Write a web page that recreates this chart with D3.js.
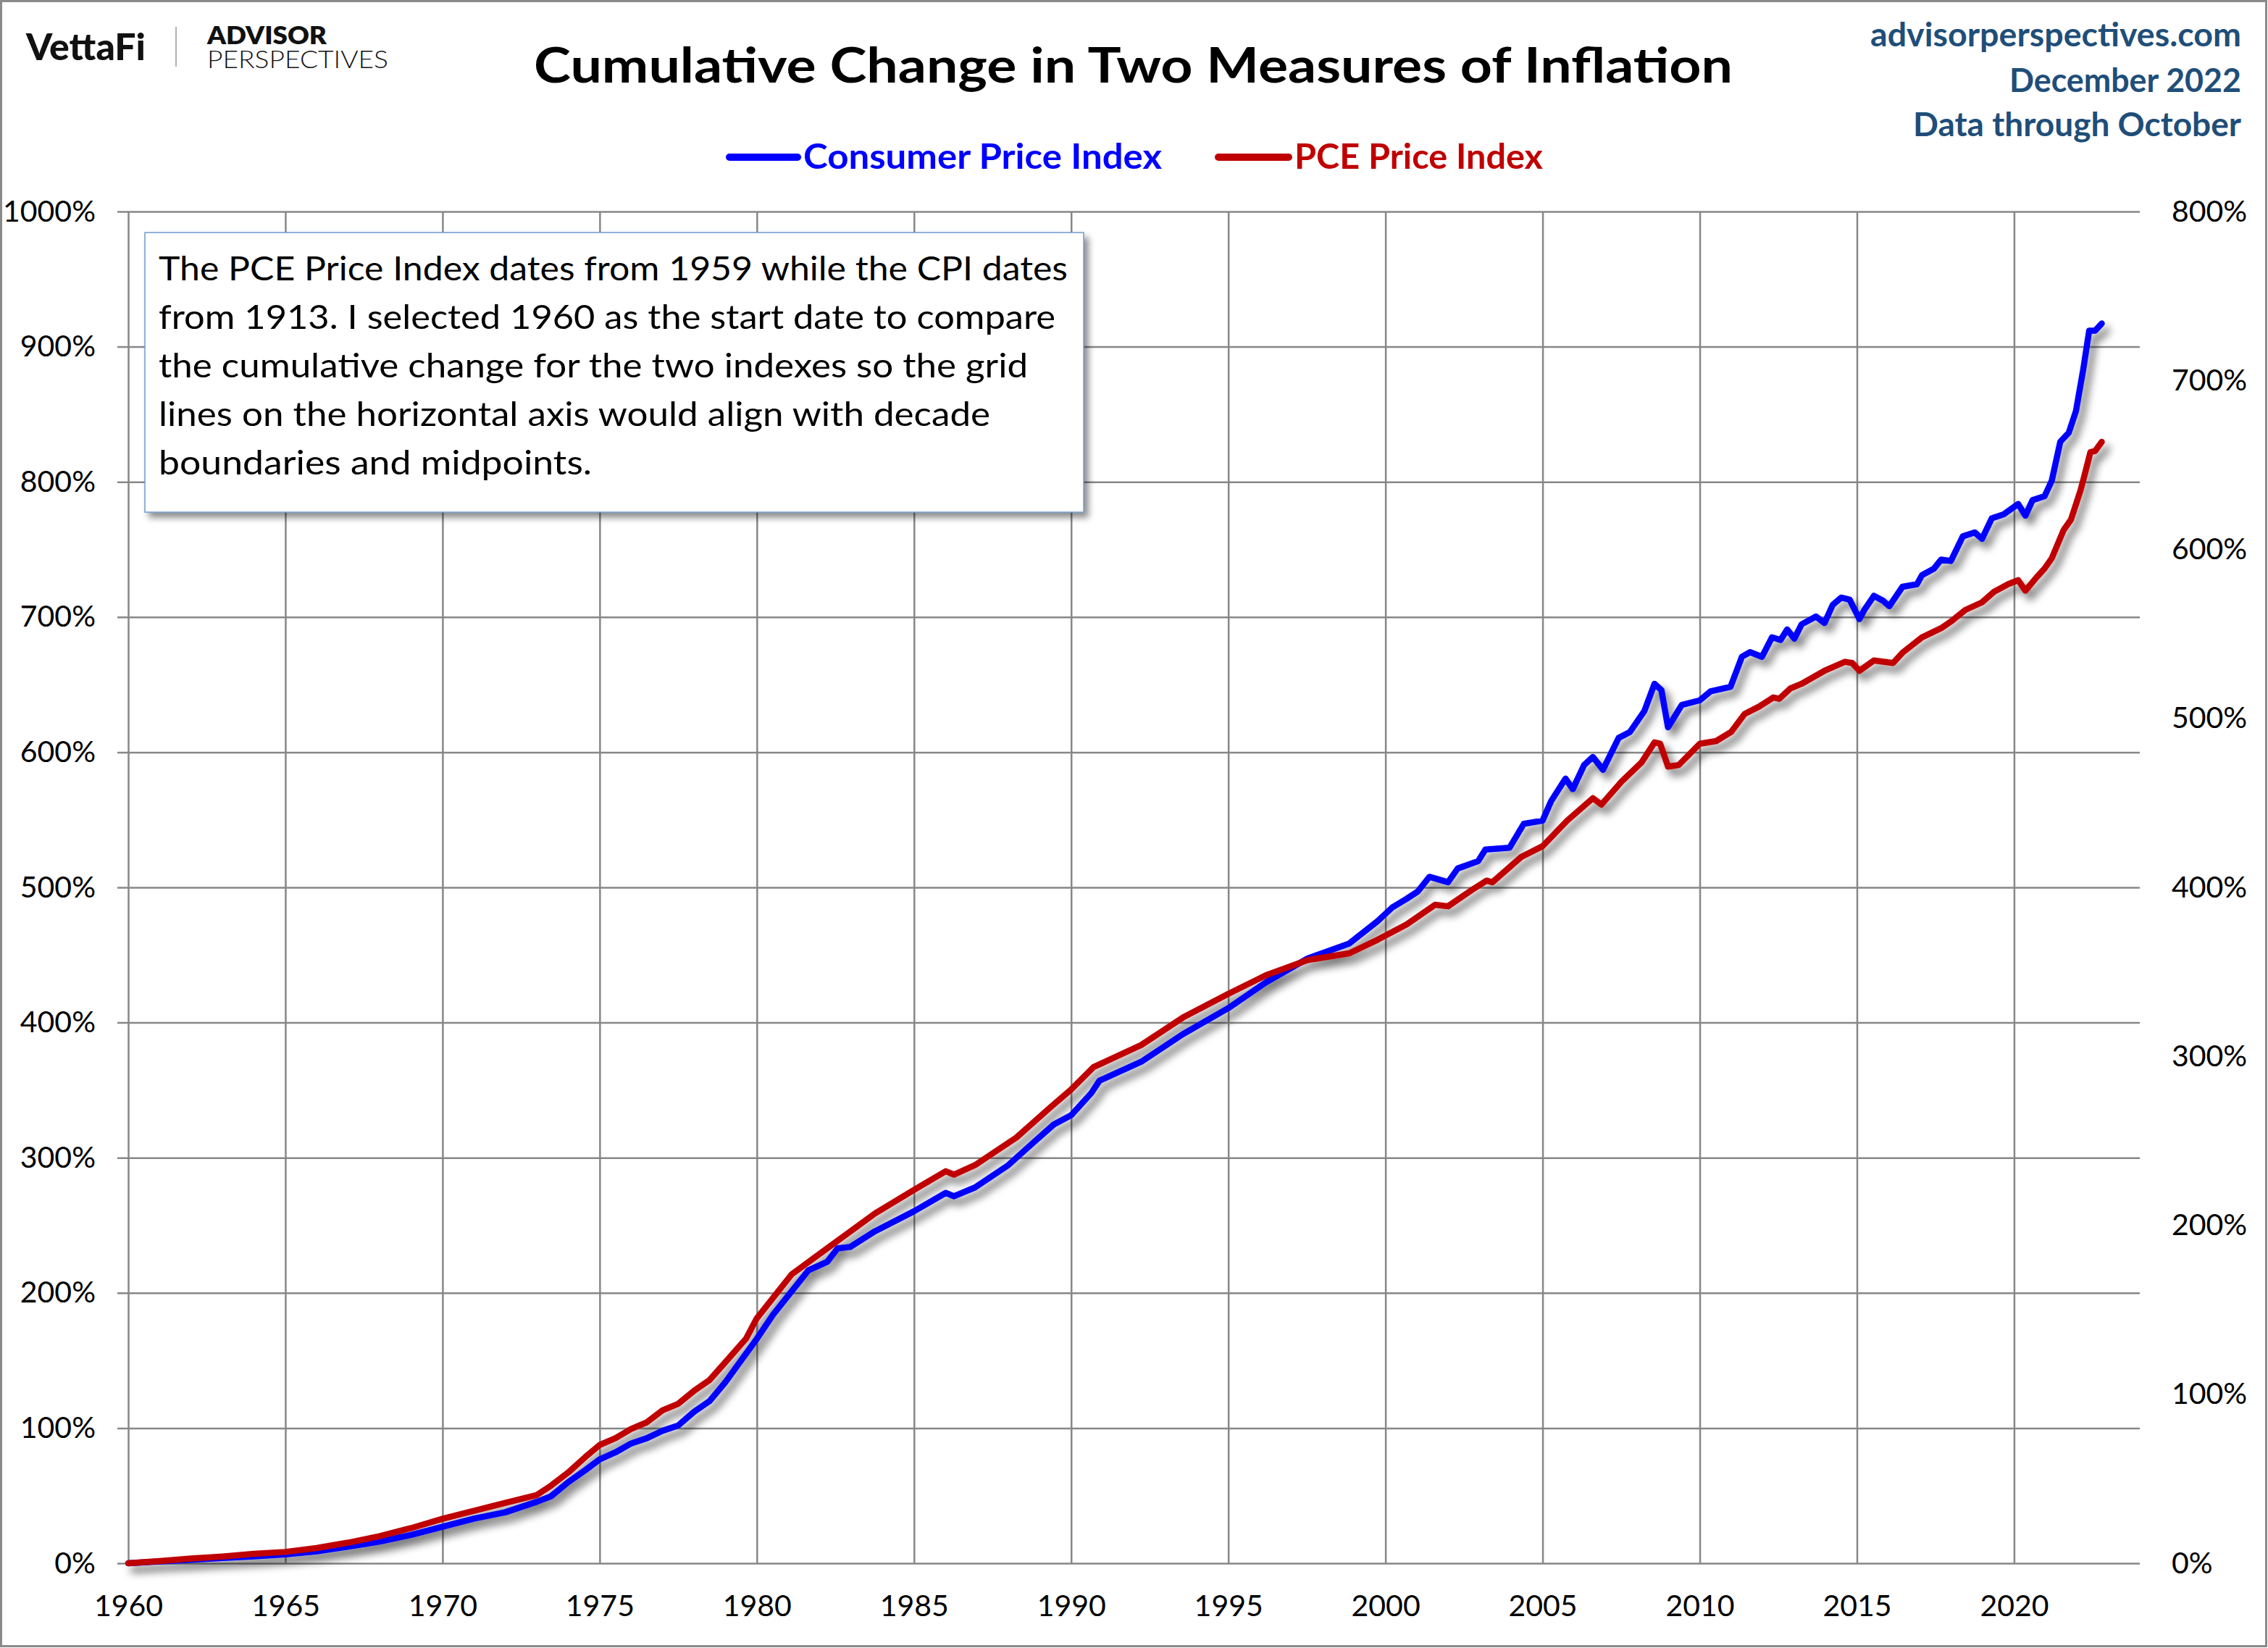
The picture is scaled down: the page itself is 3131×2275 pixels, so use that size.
<!DOCTYPE html>
<html>
<head>
<meta charset="utf-8">
<script src="https://cdn.jsdelivr.net/npm/d3@7"></script>
<style>
  html, body { margin: 0; padding: 0; background: #fff; }
  svg { display: block; font-family: Lato, "Open Sans", sans-serif; }
</style>
</head>
<body>
<script>
// ---------------- DATA ----------------
const seriesNames = ["Consumer Price Index", "PCE Price Index"];

const cpiYears = [1960,1961,1962,1963,1964,1965,1966,1967,1968,1969,1970,1971,1972,1973,1973.45,1974,1974.55,1975,1975.5,1976,1976.5,1977,1977.5,1978,1978.5,1979,1979.5,1980,1980.52,1981.64,1982.24,1982.57,1982.97,1983.76,1985,1986.01,1986.27,1986.94,1988,1988.79,1989.45,1990,1990.64,1990.9,1992.23,1993.56,1995,1996.2,1997.53,1998.85,1999.75,2000.21,2000.67,2001.03,2001.4,2001.99,2002.3,2002.95,2003.18,2003.95,2004.4,2005,2005.27,2005.73,2005.96,2006.32,2006.6,2006.92,2007.42,2007.78,2008.24,2008.56,2008.78,2008.99,2009.43,2010,2010.34,2010.98,2011.34,2011.6,2011.98,2012.3,2012.57,2012.78,2013.01,2013.24,2013.7,2013.97,2014.23,2014.5,2014.77,2015.08,2015.23,2015.54,2015.84,2016.03,2016.45,2016.91,2017.07,2017.45,2017.68,2017.99,2018.37,2018.75,2018.98,2019.29,2019.67,2020.13,2020.36,2020.59,2020.97,2021.2,2021.47,2021.74,2021.97,2022.2,2022.39,2022.58,2022.79];
const cpiValues = [0,1.3,2.5,3.9,5.1,6.5,8.8,12.3,16,21,27,33,37.7,45.5,49.5,60,69,76.8,82,88.6,92.5,98,102,112,120,134,150,166,184,216.7,223,233,234,245.6,260.4,274,271.5,278,294.5,311,324.6,331.4,347.8,357,371,391.5,410.7,429.8,447.5,458.5,475,485,491.5,497,507.8,503.8,514,519.4,528,529.4,547,549.4,563.8,580.5,572.7,590.5,596.5,587,610.6,615,630.6,650.6,646,618.4,635,638.4,645,648.4,670.6,674,670.6,685,683,690.8,684,694.6,700.4,695.6,709,714.4,712.8,698.5,705,715.7,711.9,708,722.4,724.3,731,735.8,742.5,741.5,759.7,762.6,757.8,773,776,783.6,775,786.5,789.4,800.9,829.6,836.3,852.5,883,911.9,911.9,917.2];

const pceYears = [1960,1961,1962,1963,1964,1965,1966,1967,1968,1969,1970,1971,1972,1973,1973.45,1974,1974.55,1975,1975.5,1976,1976.5,1977,1977.5,1978,1978.5,1979,1979.66,1980,1981.11,1982.24,1983.76,1985,1986.01,1986.27,1986.94,1988.26,1989.32,1990,1990.71,1992.23,1993.56,1995,1996.2,1997.53,1998.85,1999.75,2000.67,2001.58,2001.99,2002.76,2003.22,2003.4,2004.32,2005,2005.78,2006.6,2006.87,2007.51,2008.15,2008.56,2008.74,2008.99,2009.33,2010,2010.52,2011,2011.43,2011.89,2012.34,2012.53,2012.89,2013.24,2013.97,2014.62,2014.85,2015.08,2015.54,2016.15,2016.45,2017.07,2017.68,2017.99,2018.45,2018.98,2019.36,2019.82,2020.13,2020.36,2020.74,2020.97,2021.2,2021.58,2021.81,2022.12,2022.24,2022.43,2022.58,2022.79];
const pceValues = [0,1.3,2.8,4,5.6,6.7,9,12.2,16,20.8,26.3,31,35.7,40.4,45.9,53.7,63,70,74,79.5,83.4,90.5,94.4,102,108.5,119,133,145,171,186.4,207,221,232,230,235.6,252,269.5,280.4,293.6,306.7,323,337,348,357,361,369,378,389.7,388.8,398.6,404,403,418,424.4,439.5,452.8,449,462.6,474,485.8,485,471.5,472.4,485,486.6,492,502.7,507,512.4,511.6,517.8,520.5,528.2,533.5,532.8,528.2,534.3,532.8,538.9,548,553.4,557.3,564.2,568.7,574.9,579.5,581.8,575.6,584,588.7,594.8,611.6,617.7,635.3,643.8,657.6,658.3,663.7];

const leftTicks = [0,100,200,300,400,500,600,700,800,900,1000];
const rightTicks = [0,100,200,300,400,500,600,700,800];
const xTicks = [1960,1965,1970,1975,1980,1985,1990,1995,2000,2005,2010,2015,2020];

const titleText = "Cumulative Change in Two Measures of Inflation";
const sourceLines = ["advisorperspectives.com", "December 2022", "Data through October"];
const noteLines = [
  "The PCE Price Index dates from 1959 while the CPI dates",
  "from 1913. I selected 1960 as the start date to compare",
  "the cumulative change for the two indexes so the grid",
  "lines on the horizontal axis would align with decade",
  "boundaries and midpoints."
];

// ---------------- LAYOUT ----------------
const W = 3131, H = 2275;
const plot = { left: 177, right: 2954, top: 292, bottom: 2158 };
const blue = "#0000FF", red = "#C00000", grid = "#878787";
const navy = "#1F4E79";

const svg = d3.select("body").append("svg")
  .attr("width", W).attr("height", H).attr("viewBox", `0 0 ${W} ${H}`);

const defs = svg.append("defs");
function makeShadow(id, blur, dx, dy, alpha) {
  const sh = defs.append("filter").attr("id", id)
    .attr("x", "-5%").attr("y", "-5%").attr("width", "115%").attr("height", "115%");
  sh.append("feGaussianBlur").attr("in", "SourceAlpha").attr("stdDeviation", blur).attr("result", "b");
  sh.append("feOffset").attr("in", "b").attr("dx", dx).attr("dy", dy).attr("result", "o");
  sh.append("feComponentTransfer").attr("in", "o").attr("result", "o2")
    .append("feFuncA").attr("type", "linear").attr("slope", alpha);
  const m = sh.append("feMerge");
  m.append("feMergeNode").attr("in", "o2");
  m.append("feMergeNode").attr("in", "SourceGraphic");
}
makeShadow("shadow", 6, 7, 9, 0.55);
makeShadow("boxshadow", 5, 6, 7, 0.45);

svg.append("rect").attr("width", W).attr("height", H).attr("fill", "#fff");
svg.append("rect").attr("x", 1.5).attr("y", 1.5).attr("width", W - 4).attr("height", H - 4)
  .attr("fill", "none").attr("stroke", "#8a8a8a").attr("stroke-width", 3);

// scales
const x = d3.scaleLinear().domain([1960, 2024]).range([plot.left, plot.right]);
const yL = d3.scaleLinear().domain([0, 1000]).range([plot.bottom, plot.top]);
const yR = d3.scaleLinear().domain([0, 800]).range([plot.bottom, plot.top]);

const tickFont = 41;

// bottom axis (vertical grid)
const gx = svg.append("g").attr("transform", `translate(0,${plot.bottom})`)
  .call(d3.axisBottom(x).tickValues(xTicks).tickFormat(d3.format("d"))
    .tickSizeInner(-(plot.bottom - plot.top)).tickSizeOuter(0).tickPadding(44));
gx.select(".domain").remove();
gx.selectAll("line").attr("stroke", grid).attr("stroke-width", 2.5);
gx.selectAll("text").attr("font-size", tickFont).attr("font-family", "Lato").attr("fill", "#000");

// left axis (horizontal grid)
const gl = svg.append("g").attr("transform", `translate(${plot.left - 15},0)`)
  .call(d3.axisLeft(yL).tickValues(leftTicks).tickFormat(d => d + "%")
    .tickSizeInner(-(plot.right - plot.left + 15)).tickSizeOuter(0).tickPadding(30));
gl.select(".domain").remove();
gl.selectAll("line").attr("stroke", grid).attr("stroke-width", 2.5);
gl.selectAll("text").attr("font-size", tickFont).attr("font-family", "Lato").attr("fill", "#000");

// right axis
const gr = svg.append("g").attr("transform", `translate(${plot.right},0)`)
  .call(d3.axisRight(yR).tickValues(rightTicks).tickFormat(d => d + "%")
    .tickSize(0).tickPadding(44));
gr.select(".domain").remove();
gr.selectAll("text").attr("font-size", tickFont).attr("font-family", "Lato").attr("fill", "#000");

// lines
const cpiData = cpiYears.map((d, i) => [d, cpiValues[i]]);
const pceData = pceYears.map((d, i) => [d, pceValues[i]]);
const lineL = d3.line().x(d => x(d[0])).y(d => yL(d[1]));
const lineR = d3.line().x(d => x(d[0])).y(d => yR(d[1]));

const gLines = svg.append("g").attr("filter", "url(#shadow)");
gLines.append("path").datum(cpiData).attr("d", lineL)
  .attr("fill", "none").attr("stroke", blue).attr("stroke-width", 8.5)
  .attr("stroke-linejoin", "round").attr("stroke-linecap", "round");
gLines.append("path").datum(pceData).attr("d", lineR)
  .attr("fill", "none").attr("stroke", red).attr("stroke-width", 8.5)
  .attr("stroke-linejoin", "round").attr("stroke-linecap", "round");

// helper
function txt(g, s, xx, yy, size, weight, fill, tl) {
  const t = g.append("text").attr("x", xx).attr("y", yy).attr("font-size", size)
    .attr("font-weight", weight).attr("fill", fill).attr("font-family", "Lato").text(s);
  if (tl) t.attr("textLength", tl).attr("lengthAdjust", "spacingAndGlyphs");
  return t;
}

// annotation box
const note = svg.append("g");
note.append("rect").attr("x", 200).attr("y", 321).attr("width", 1296).attr("height", 386)
  .attr("fill", "#fff").attr("stroke", "#6F9AD0").attr("stroke-width", 1.5)
  .attr("filter", "url(#boxshadow)");
const noteW = [1255, 1238, 1200, 1148, 598];
noteLines.forEach((s, i) => txt(note, s, 219, 387 + i * 67, 46, 400, "#000", noteW[i]));

// title
txt(svg, titleText, 737, 114, 66, 700, "#000", 1655);

// legend
const leg = svg.append("g");
[[seriesNames[0], blue, 1007, 1101, 1109, 495], [seriesNames[1], red, 1682, 1779, 1787, 343]]
  .forEach(([name, c, x1, x2, tx, tl]) => {
    leg.append("line").attr("x1", x1).attr("x2", x2).attr("y1", 217).attr("y2", 217)
      .attr("stroke", c).attr("stroke-width", 10).attr("stroke-linecap", "round");
    txt(leg, name, tx, 233, 48, 700, c, tl);
  });

// source text (top right)
const srcW = [512, 320, 453];
const srcY = [64, 127, 188];
sourceLines.forEach((s, i) => txt(svg, s, 3094 - srcW[i], srcY[i], 45, 700, navy, srcW[i]));

// logo
txt(svg, "VettaFi", 36, 83, 52, 900, "#111", 165);
svg.append("line").attr("x1", 243).attr("x2", 243).attr("y1", 37).attr("y2", 92)
  .attr("stroke", "#999").attr("stroke-width", 1.5);
txt(svg, "ADVISOR", 286, 61, 33, 800, "#111", 165);
txt(svg, "PERSPECTIVES", 286, 94, 33, 300, "#111", 250);
</script>
</body>
</html>
